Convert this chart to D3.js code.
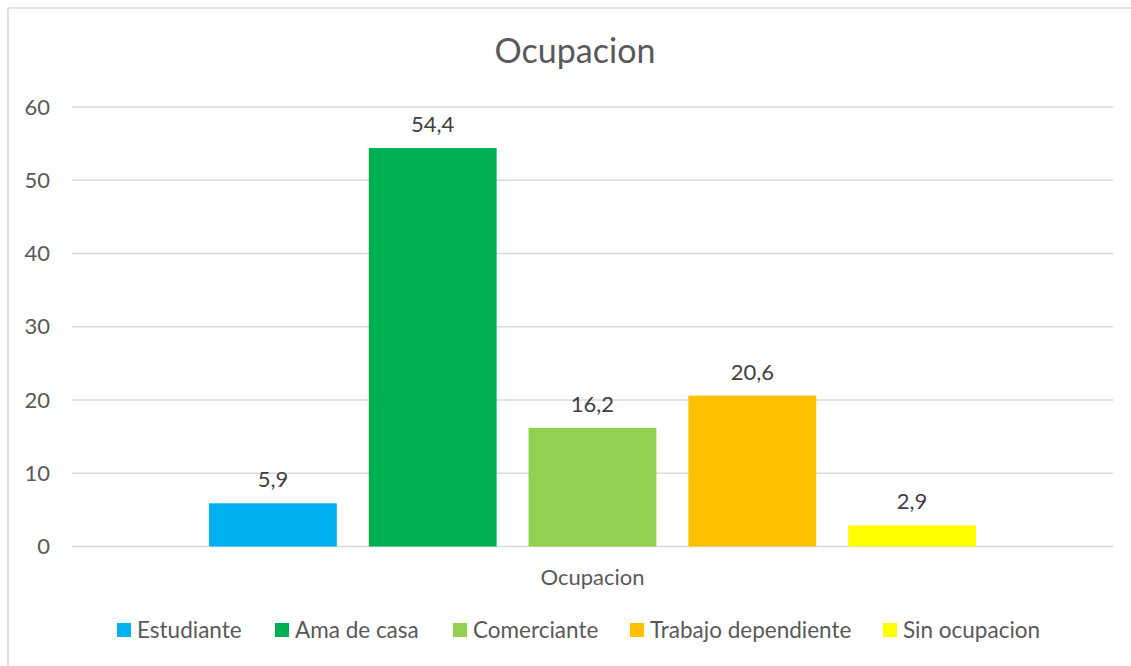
<!DOCTYPE html>
<html>
<head>
<meta charset="utf-8">
<script src="https://cdn.jsdelivr.net/npm/d3@7/dist/d3.min.js"></script>
<style>
  html, body { margin: 0; padding: 0; background: #fff; }
  svg { display: block; font-family: Lato, "Open Sans", sans-serif; }
</style>
</head>
<body>
<svg id="chart" width="1131" height="666"></svg>
<script>
// ---- data ----
const title = "Ocupacion";
const categories = ["Ocupacion"];
const seriesNames = ["Estudiante", "Ama de casa", "Comerciante", "Trabajo dependiente", "Sin ocupacion"];
const seriesValues = [5.9, 54.4, 16.2, 20.6, 2.9];
const seriesColors = ["#00B0F0", "#00B050", "#92D050", "#FFC000", "#FFFF00"];
const yTicks = [0, 10, 20, 30, 40, 50, 60];

const svg = d3.select("#chart");
const W = 1131, H = 666;
const textColor = "#595959";
const gridColor = "#D9D9D9";
const fmt = v => String(v).replace(".", ",");

// chart frame (left + top edges visible)
svg.append("path")
  .attr("d", `M8,${H} L8,8 L${W},8`)
  .attr("fill", "none")
  .attr("stroke", gridColor)
  .attr("stroke-width", 1.5);

const plot = { left: 72, right: 1113, top: 107, bottom: 546.5 };

const y = d3.scaleLinear().domain([0, 60]).range([plot.bottom, plot.top]);
const x0 = d3.scaleBand().domain(categories).range([plot.left, plot.right])
  .paddingInner(0).paddingOuter(0.1786);
const x1 = d3.scaleBand().domain(seriesNames).range([0, x0.bandwidth()])
  .paddingInner(0.2).paddingOuter(0);

// gridlines
svg.append("g").selectAll("line").data(yTicks).join("line")
  .attr("x1", plot.left).attr("x2", plot.right)
  .attr("y1", d => y(d)).attr("y2", d => y(d))
  .attr("stroke", gridColor).attr("stroke-width", 1.5);

// y axis labels
const yAxis = d3.axisLeft(y).tickValues(yTicks).tickSize(0).tickPadding(0);
const gy = svg.append("g").attr("transform", `translate(50,0)`).call(yAxis);
gy.select(".domain").remove();
gy.selectAll("text")
  .attr("fill", textColor)
  .style("font-size", "22px")
  .style("font-family", "Lato, 'Open Sans', sans-serif");

// bars
const g = svg.append("g").selectAll("g").data(categories).join("g")
  .attr("transform", d => `translate(${x0(d)},0)`);
const barData = seriesNames.map((n, i) => ({ name: n, value: seriesValues[i], color: seriesColors[i] }));
g.selectAll("rect").data(barData).join("rect")
  .attr("x", d => x1(d.name))
  .attr("y", d => y(d.value))
  .attr("width", x1.bandwidth())
  .attr("height", d => y(0) - y(d.value))
  .attr("fill", d => d.color);

// data labels
g.selectAll("text.lbl").data(barData).join("text")
  .attr("class", "lbl")
  .attr("x", d => x1(d.name) + x1.bandwidth() / 2)
  .attr("y", d => y(d.value) - 16)
  .attr("text-anchor", "middle")
  .attr("fill", "#404040")
  .style("font-size", "22px")
  .text(d => fmt(d.value));

// x axis (category label)
const xAxis = d3.axisBottom(x0).tickSize(0).tickPadding(0);
const gx = svg.append("g").attr("transform", `translate(0,${plot.bottom})`).call(xAxis);
gx.select(".domain").remove();
gx.selectAll("text")
  .attr("dy", null)
  .attr("y", 38)
  .attr("fill", textColor)
  .style("font-size", "22px")
  .style("font-family", "Lato, 'Open Sans', sans-serif");

// title
svg.append("text")
  .attr("x", 575).attr("y", 63)
  .attr("text-anchor", "middle")
  .attr("fill", textColor)
  .style("font-size", "34px")
  .text(title);

// legend
const legendX = [117, 275, 453, 630, 883];
const lg = svg.append("g").selectAll("g").data(barData).join("g")
  .attr("transform", (d, i) => `translate(${legendX[i]},623)`);
lg.append("rect").attr("width", 14).attr("height", 14).attr("fill", d => d.color);
lg.append("text")
  .attr("x", 20).attr("y", 15)
  .attr("fill", textColor)
  .style("font-size", "22.5px")
  .text(d => d.name);
</script>
</body>
</html>
